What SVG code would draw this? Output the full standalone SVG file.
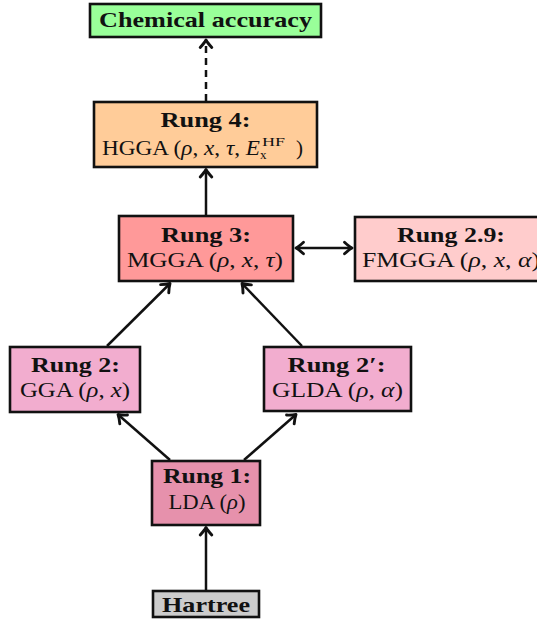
<svg xmlns="http://www.w3.org/2000/svg" width="537" height="628" viewBox="0 0 537 628">
<style>
.box{stroke:#111;stroke-width:2.6}
text{font-family:"Liberation Serif","Times New Roman",serif;font-size:21px;fill:#111}
.b{font-weight:bold}
.m{text-anchor:middle}
.i{font-style:italic}
.c{fill:none;stroke:#111;stroke-width:2.5}
</style>
<defs>
<marker id="ah" viewBox="-11 -8 14 16" refX="0" refY="0" markerWidth="14" markerHeight="16" markerUnits="userSpaceOnUse" orient="auto-start-reverse">
<path d="M-7.5,-5.8 C-4,-2.6 -1.5,-0.8 0,0 C-1.5,0.8 -4,2.6 -7.5,5.8" fill="none" stroke="#111" stroke-width="2.9" stroke-linecap="round" stroke-linejoin="round"/>
</marker>
</defs>
<rect width="537" height="628" fill="#fff"/>
<g id="connectors">
<line class="c" x1="206" y1="101" x2="206" y2="40" stroke-dasharray="7 5" marker-end="url(#ah)"/>
<line class="c" x1="206" y1="215" x2="206" y2="169.5" marker-end="url(#ah)"/>
<line class="c" x1="296" y1="248" x2="352" y2="248" marker-start="url(#ah)" marker-end="url(#ah)"/>
<line class="c" x1="107" y1="346" x2="170" y2="283.5" marker-end="url(#ah)"/>
<line class="c" x1="302" y1="346" x2="242" y2="283.5" marker-end="url(#ah)"/>
<line class="c" x1="170" y1="460" x2="118" y2="414.5" marker-end="url(#ah)"/>
<line class="c" x1="244" y1="460" x2="296" y2="414.5" marker-end="url(#ah)"/>
<line class="c" x1="206" y1="590" x2="206" y2="527.5" marker-end="url(#ah)"/>
</g>
<g id="chemical-accuracy">
<rect class="box" x="90" y="4" width="231" height="33" fill="#99ff99"/>
<text class="b m" x="205.5" y="27" textLength="213" lengthAdjust="spacingAndGlyphs">Chemical accuracy</text>
</g>
<g id="rung4">
<rect class="box" x="94" y="102" width="223" height="65" fill="#ffcc99"/>
<text class="b m" x="205.5" y="127" textLength="90" lengthAdjust="spacingAndGlyphs">Rung 4:</text>
<text x="102" y="155" textLength="158" lengthAdjust="spacingAndGlyphs">HGGA (<tspan class="i">ρ</tspan>, <tspan class="i">x</tspan>, <tspan class="i">τ</tspan>, <tspan class="i">E</tspan></text>
<text x="262" y="145.5" style="font-size:13px" textLength="23" lengthAdjust="spacingAndGlyphs">HF</text>
<text x="260" y="159" style="font-size:13px">x</text>
<text x="296" y="155">)</text>
</g>
<g id="rung3">
<rect class="box" x="119" y="216" width="174" height="65" fill="#ff9999"/>
<text class="b m" x="206" y="242" textLength="90" lengthAdjust="spacingAndGlyphs">Rung 3:</text>
<text class="m" x="205" y="267" textLength="156" lengthAdjust="spacingAndGlyphs">MGGA (<tspan class="i">ρ</tspan>, <tspan class="i">x</tspan>, <tspan class="i">τ</tspan>)</text>
</g>
<g id="rung29">
<rect class="box" x="355" y="217" width="192" height="64" fill="#ffcccc"/>
<text class="b m" x="451" y="242" textLength="108" lengthAdjust="spacingAndGlyphs">Rung 2.9:</text>
<text class="m" x="451" y="267" textLength="178" lengthAdjust="spacingAndGlyphs">FMGGA (<tspan class="i">ρ</tspan>, <tspan class="i">x</tspan>, <tspan class="i">α</tspan>)</text>
</g>
<g id="rung2">
<rect class="box" x="10" y="347" width="130" height="65" fill="#f2adcf"/>
<text class="b m" x="75.5" y="372" textLength="89" lengthAdjust="spacingAndGlyphs">Rung 2:</text>
<text class="m" x="75" y="397" textLength="110" lengthAdjust="spacingAndGlyphs">GGA (<tspan class="i">ρ</tspan>, <tspan class="i">x</tspan>)</text>
</g>
<g id="rung2prime">
<rect class="box" x="264" y="347" width="147" height="64" fill="#f2adcf"/>
<text class="b m" x="336.5" y="372" textLength="98" lengthAdjust="spacingAndGlyphs">Rung 2′:</text>
<text class="m" x="337.5" y="397" textLength="131" lengthAdjust="spacingAndGlyphs">GLDA (<tspan class="i">ρ</tspan>, <tspan class="i">α</tspan>)</text>
</g>
<g id="rung1">
<rect class="box" x="152" y="461" width="108" height="64" fill="#e691ac"/>
<text class="b m" x="207" y="483" textLength="88" lengthAdjust="spacingAndGlyphs">Rung 1:</text>
<text class="m" x="207" y="509" textLength="77" lengthAdjust="spacingAndGlyphs">LDA (<tspan class="i">ρ</tspan>)</text>
</g>
<g id="hartree">
<rect class="box" x="153" y="591" width="106" height="26" fill="#cccccc"/>
<text class="b m" x="206" y="612" textLength="88" lengthAdjust="spacingAndGlyphs">Hartree</text>
</g>
</svg>
